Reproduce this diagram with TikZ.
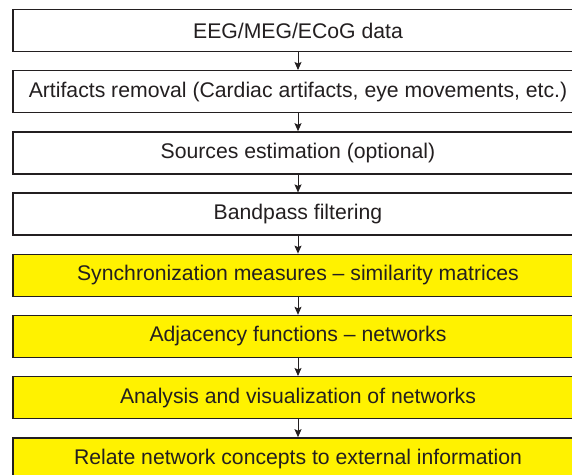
\documentclass[tikz,border=0pt]{standalone}
\usepackage{fontspec}
\setmainfont{Liberation Sans}
\usetikzlibrary{arrows.meta, positioning}
\definecolor{inkdark}{HTML}{231F20}
\definecolor{stepyellow}{HTML}{FFF200}

\tikzset{
    stepbox/.style={draw=inkdark, line width=1.4pt, fill=white, text=inkdark,
        minimum width=570pt, minimum height=42pt, inner sep=0pt,
        font=\fontsize{21.2}{24}\selectfont},
    hlbox/.style={stepbox, fill=stepyellow},
    flow/.style={-{Stealth[length=8pt, width=7pt, inset=1.5pt]}, line width=0.9pt, draw=inkdark}
}

\begin{document}
\begin{tikzpicture}[x=1pt, y=1pt, node distance=17.8pt]
    \clip (0,0) rectangle (572,-474);
    % Vorverarbeitung
    \node[stepbox] (eeg) at (298,-30.5) {EEG/MEG/ECoG data};
    \node[stepbox, below=of eeg] (artif) {Artifacts removal (Cardiac artifacts, eye movements, etc.)};
    \node[stepbox, below=of artif] (source) {Sources estimation (optional)};
    \node[stepbox, below=of source] (band) {Bandpass filtering};

    % Netzwerkanalyse
    \node[hlbox, below=of band] (sync) {Synchronization measures -- similarity matrices};
    \node[hlbox, below=of sync] (adj) {Adjacency functions -- networks};
    \node[hlbox, below=of adj] (anal) {Analysis and visualization of networks};
    \node[hlbox, below=of anal] (relate) {Relate network concepts to external information};

    % Pfeile
    \foreach \a/\b in {eeg/artif, artif/source, source/band, band/sync,
                       sync/adj, adj/anal, anal/relate}
        \draw[flow] (\a) -- (\b);
\end{tikzpicture}
\end{document}
